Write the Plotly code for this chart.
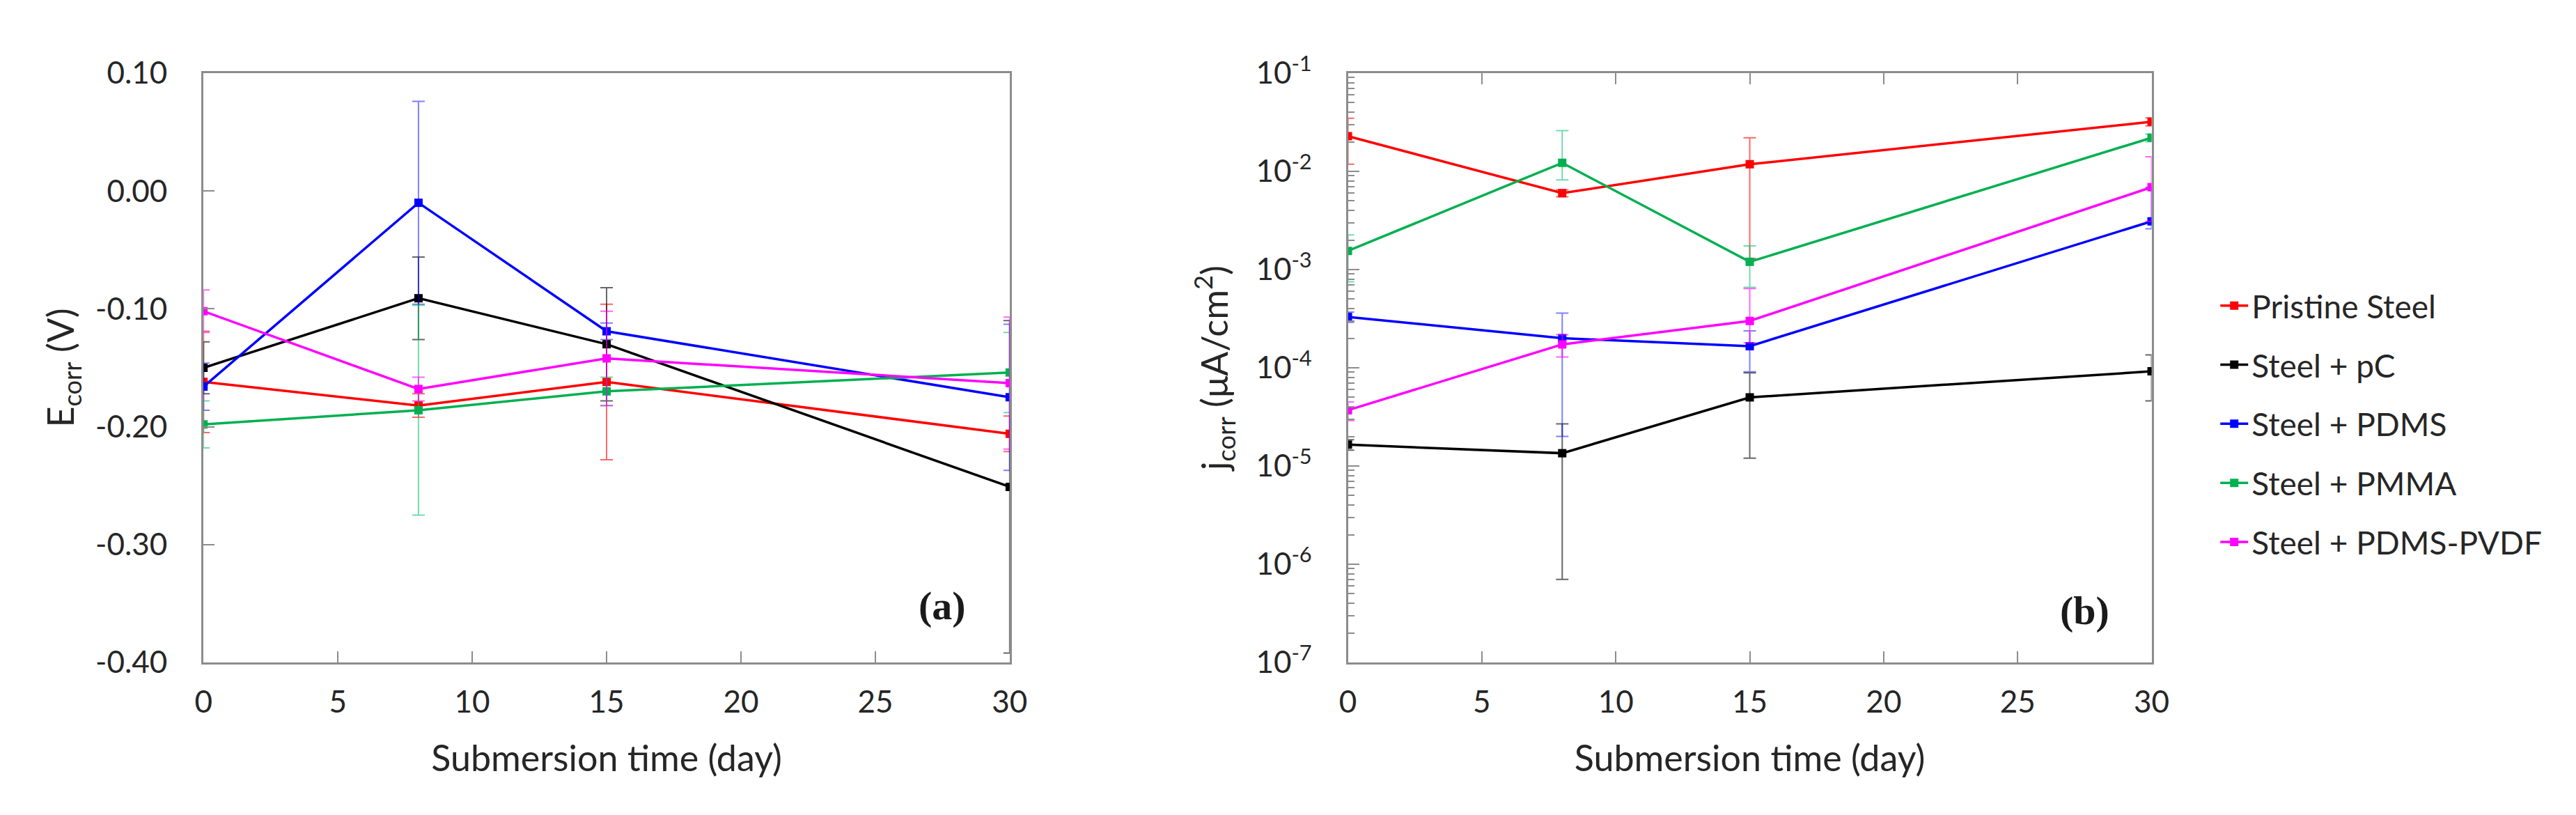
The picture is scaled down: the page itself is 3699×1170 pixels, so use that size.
import plotly.graph_objects as go

# submersion time (day)
days = [0, 8, 15, 30]

series_names = ['Pristine Steel', 'Steel + pC', 'Steel + PDMS', 'Steel + PMMA', 'Steel + PDMS-PVDF']
line_colors = ['#FF0000', '#000000', '#0000FF', '#00B050', '#FF00FF']
err_colors = ['rgba(255,0,0,0.6)', 'rgba(0,0,0,0.6)', 'rgba(0,0,255,0.5)', 'rgba(0,190,110,0.55)', 'rgba(255,0,255,0.6)']

# (a) Ecorr (V)
ecorr_pristine = [-0.162, -0.182, -0.162, -0.206]
ecorr_pc = [-0.150, -0.091, -0.130, -0.251]
ecorr_pdms = [-0.166, -0.010, -0.119, -0.175]
ecorr_pmma = [-0.198, -0.186, -0.170, -0.154]
ecorr_pvdf = [-0.102, -0.168, -0.142, -0.163]

ecorr_err_pristine = [0.043, 0.010, 0.066, 0.015]
ecorr_err_pc = [0.022, 0.035, 0.048, 0.141]
ecorr_err_pdms = [0.020, 0.086, 0.007, 0.062]
ecorr_err_pmma = [0.020, 0.089, 0.012, 0.034]
ecorr_err_pvdf = [0.018, 0.010, 0.040, 0.056]

# (b) jcorr (uA/cm2)
jcorr_pristine = [2.28e-2, 6.0e-3, 1.18e-2, 3.2e-2]
jcorr_pc = [1.65e-5, 1.35e-5, 5.0e-5, 9.2e-5]
jcorr_pdms = [3.3e-4, 2.0e-4, 1.66e-4, 3.1e-3]
jcorr_pmma = [1.55e-3, 1.22e-2, 1.2e-3, 2.2e-2]
jcorr_pvdf = [3.7e-5, 1.73e-4, 3.0e-4, 6.9e-3]

jcorr_up_pristine = [1.2e-2, 5e-4, 1.02e-2, 3e-3]
jcorr_dn_pristine = [1.1e-2, 5e-4, 1.05e-2, 3e-3]
jcorr_up_pc = [2e-6, 1.34e-5, 3.9e-5, 4.3e-5]
jcorr_dn_pc = [2e-6, 1.28e-5, 3.8e-5, 4.6e-5]
jcorr_up_pdms = [4e-5, 1.6e-4, 7.2e-5, 3.8e-3]
jcorr_dn_pdms = [4e-5, 1.8e-4, 7.5e-5, 5e-4]
jcorr_up_pmma = [7e-4, 1.38e-2, 5.4e-4, 2e-3]
jcorr_dn_pmma = [8e-4, 4e-3, 5.4e-4, 2e-3]
jcorr_up_pvdf = [8e-6, 4.4e-5, 3.4e-4, 7.2e-3]
jcorr_dn_pvdf = [8e-6, 4.4e-5, 1.2e-4, 3.8e-3]

ecorr_ticks = [0.10, 0.00, -0.10, -0.20, -0.30, -0.40]
ecorr_ticktext = ['0.10', '0.00', '-0.10', '-0.20', '-0.30', '-0.40']
jcorr_ticks = [1e-7, 1e-6, 1e-5, 1e-4, 1e-3, 1e-2, 1e-1]
jcorr_ticktext = ['10<sup>-7</sup>', '10<sup>-6</sup>', '10<sup>-5</sup>', '10<sup>-4</sup>',
                  '10<sup>-3</sup>', '10<sup>-2</sup>', '10<sup>-1</sup>']
day_ticks = [0, 5, 10, 15, 20, 25, 30]

ecorr_all = [ecorr_pristine, ecorr_pc, ecorr_pdms, ecorr_pmma, ecorr_pvdf]
ecorr_err_all = [ecorr_err_pristine, ecorr_err_pc, ecorr_err_pdms, ecorr_err_pmma, ecorr_err_pvdf]
jcorr_all = [jcorr_pristine, jcorr_pc, jcorr_pdms, jcorr_pmma, jcorr_pvdf]
jcorr_up_all = [jcorr_up_pristine, jcorr_up_pc, jcorr_up_pdms, jcorr_up_pmma, jcorr_up_pvdf]
jcorr_dn_all = [jcorr_dn_pristine, jcorr_dn_pc, jcorr_dn_pdms, jcorr_dn_pmma, jcorr_dn_pvdf]

FONT = 'Lato'
TXT = '#262626'
AX = '#8c8c8c'

fig = go.Figure()

for i, name in enumerate(series_names):
    fig.add_trace(go.Scatter(
        x=days, y=ecorr_all[i], name=name, mode='lines+markers',
        legendgroup=name, showlegend=False,
        line=dict(color=line_colors[i], width=3.5),
        marker=dict(symbol='square', size=12, color=line_colors[i]),
        error_y=dict(type='data', array=ecorr_err_all[i], color=err_colors[i], thickness=2, width=9),
        xaxis='x', yaxis='y'))

for i, name in enumerate(series_names):
    fig.add_trace(go.Scatter(
        x=days, y=jcorr_all[i], name=name, mode='lines+markers',
        legendgroup=name, showlegend=True,
        line=dict(color=line_colors[i], width=3.5),
        marker=dict(symbol='square', size=12, color=line_colors[i]),
        error_y=dict(type='data', symmetric=False, array=jcorr_up_all[i], arrayminus=jcorr_dn_all[i],
                     color=err_colors[i], thickness=2, width=9),
        xaxis='x2', yaxis='y2'))

# minor log ticks for panel (b)
minor_vals = [k * 10.0 ** e for e in range(-7, -1) for k in range(2, 10)]

axis_common = dict(showline=True, linecolor=AX, linewidth=3, ticks='inside', tickcolor=AX,
                   tickwidth=2, ticklen=16, showgrid=False, zeroline=False,
                   tickfont=dict(family=FONT, size=44, color=TXT))

fig.update_layout(
    width=3699, height=1170,
    paper_bgcolor='white', plot_bgcolor='white',
    margin=dict(l=0, r=0, t=97, b=227),
    font=dict(family=FONT, color=TXT),
    xaxis=dict(domain=[0.0741, 0.3904], range=[0, 30], tickvals=day_ticks, mirror=True,
               ticklabelstandoff=16,
               title=dict(text='Submersion time (day)', font=dict(family=FONT, size=52, color=TXT), standoff=40),
               **axis_common),
    yaxis=dict(domain=[0, 1], range=[-0.40, 0.10], tickvals=ecorr_ticks, ticktext=ecorr_ticktext,
               mirror=True, ticklabelstandoff=40,
               title=dict(text='E<sub>corr</sub> (V)', font=dict(family=FONT, size=52, color=TXT), standoff=14),
               **axis_common),
    xaxis2=dict(domain=[0.5231, 0.8384], range=[0, 30], tickvals=day_ticks, mirror='ticks',
                ticklabelstandoff=16, anchor='y2',
                title=dict(text='Submersion time (day)', font=dict(family=FONT, size=52, color=TXT), standoff=40),
                **axis_common),
    yaxis2=dict(domain=[0, 1], type='log', range=[-7, -1], tickvals=jcorr_ticks, ticktext=jcorr_ticktext,
                mirror=True, ticklabelstandoff=40, anchor='x2',
                minor=dict(tickvals=minor_vals, ticks='inside', ticklen=9, tickcolor=AX, tickwidth=1.5),
                title=dict(text='j<sub>corr</sub> (μA/cm<sup>2</sup>)', font=dict(family=FONT, size=52, color=TXT),
                           standoff=24),
                **axis_common),
    legend=dict(x=0.864, y=0.405, xanchor='left', yanchor='middle', tracegroupgap=22,
                font=dict(family=FONT, size=46, color=TXT), itemwidth=40, bgcolor='rgba(0,0,0,0)'),
    annotations=[
        dict(text='<b>(a)</b>', x=27.5, y=-0.352, xref='x', yref='y', showarrow=False,
             font=dict(family='Liberation Serif', size=58, color='#1a1a1a')),
        dict(text='<b>(b)</b>', x=27.5, y=-6.47, xref='x2', yref='y2', showarrow=False,
             font=dict(family='Liberation Serif', size=58, color='#1a1a1a')),
    ],
)

fig.write_html('out.html')
